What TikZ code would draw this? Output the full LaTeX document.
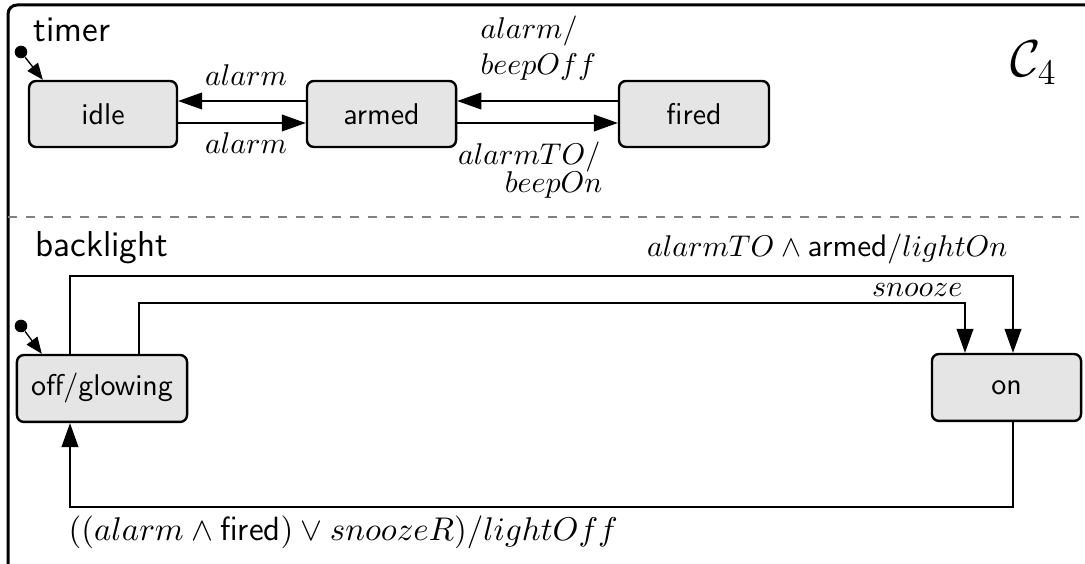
\documentclass[tikz,border=0pt]{standalone}
\usetikzlibrary{arrows.meta,calc}
\tikzset{
  state/.style={draw, line width=0.8pt, rounded corners=2.3pt, fill=black!10,
    minimum height=22pt, inner sep=0pt, font=\sffamily},
  lbl/.style={inner sep=0pt, font=\fontsize{10.4}{12.5}\selectfont},
  tr/.style={line width=0.45pt, -{Triangle[length=8pt,width=5.6pt]}},
  initarr/.style={line width=0.45pt, -{Triangle[length=5.5pt,width=4.4pt]}},
  initdot/.style={circle, fill=black, inner sep=0pt, minimum size=4.2pt},
  region/.style={inner sep=0pt, font=\large\sffamily, anchor=base west},
}
\begin{document}
\begin{tikzpicture}[x=0.33333pt, y=-0.33333pt]
\useasboundingbox (0,0) rectangle (1085,564);
\clip (0,0) rectangle (1085,564);
\fill[white] (0,0) rectangle (1085,564);

% enclosing chart and the separator of its two regions
\draw[line width=1pt, rounded corners=3pt] (8,5) rectangle (1100,572);
\draw[gray, line width=0.5pt, dash pattern=on 3pt off 3pt] (8,217) -- (1090,217);

\node[inner sep=0pt, anchor=base west, font=\fontsize{17}{20}\selectfont] (name) at (1010,77) {$\mathcal{C}_4$};

% ---- region: timer ----
\node[region] (rt) at (33,42) {timer};
\node[state, minimum width=49.3pt] (idle)  at (103,114)   {idle};
\node[state, minimum width=49.7pt] (armed) at (381.5,114) {armed};
\node[state, minimum width=50pt]   (fired) at (694,114)   {fired};

\node[initdot] (i1) at (21,52) {};
\draw[initarr] (i1) -- ([xshift=5pt]idle.north west);

\draw[tr] ([yshift=4.33pt]armed.west) -- ([yshift=4.33pt]idle.east);
\draw[tr] ([yshift=-3pt]idle.east) -- ([yshift=-3pt]armed.west);
\draw[tr] ([yshift=4.33pt]fired.west) -- ([yshift=4.33pt]armed.east);
\draw[tr] ([yshift=-3pt]armed.east) -- ([yshift=-3pt]fired.west);

\node[lbl, anchor=base] (l1) at (246,86)  {$alarm$};
\node[lbl, anchor=base] (l2) at (246,154) {$alarm$};
\node[lbl, anchor=base west] (l3a) at (480,39) {$alarm/$};
\node[lbl, anchor=base west] (l3b) at (480,75) {$beepOff$};
\node[lbl, anchor=base east] (l4a) at (601,165) {$alarmTO/$};
\node[lbl, anchor=base east] (l4b) at (603,193) {$beepOn$};

% ---- region: backlight ----
\node[region] (rb) at (35,257) {backlight};
\node[state, minimum width=56.7pt, minimum height=22.3pt] (offg) at (102,388.5) {off$/$glowing};
\node[state, minimum width=49.7pt, minimum height=22.3pt] (on)   at (1006.5,387.5) {on};

\node[initdot] (i2) at (21,326) {};
\draw[initarr] (i2) -- ([xshift=8.7pt]offg.north west);

\coordinate (a1) at (70,276);
\coordinate (a2) at (1013,276);
\draw[tr] (offg.north -| a1) -- (a1) -- (a2) -- (on.north -| a2);

\coordinate (s1) at (139,303);
\coordinate (s2) at (965,303);
\draw[tr] (offg.north -| s1) -- (s1) -- (s2) -- (on.north -| s2);

\coordinate (b1) at (1013,507);
\coordinate (b2) at (70,507);
\draw[tr] (on.south -| b1) -- (b1) -- (b2) -- (offg.south -| b2);

\node[lbl, anchor=base east] (l5) at (1008,257) {$alarmTO \wedge \textsf{armed}/lightOn$};
\node[lbl, anchor=base east] (l6) at (963,297) {$snooze$};
\node[lbl, anchor=base west, font=\fontsize{11.2}{13}\selectfont] (l7) at (68,541) {$((alarm \wedge \textsf{fired}) \vee snoozeR)/lightOff$};
\end{tikzpicture}
\end{document}
